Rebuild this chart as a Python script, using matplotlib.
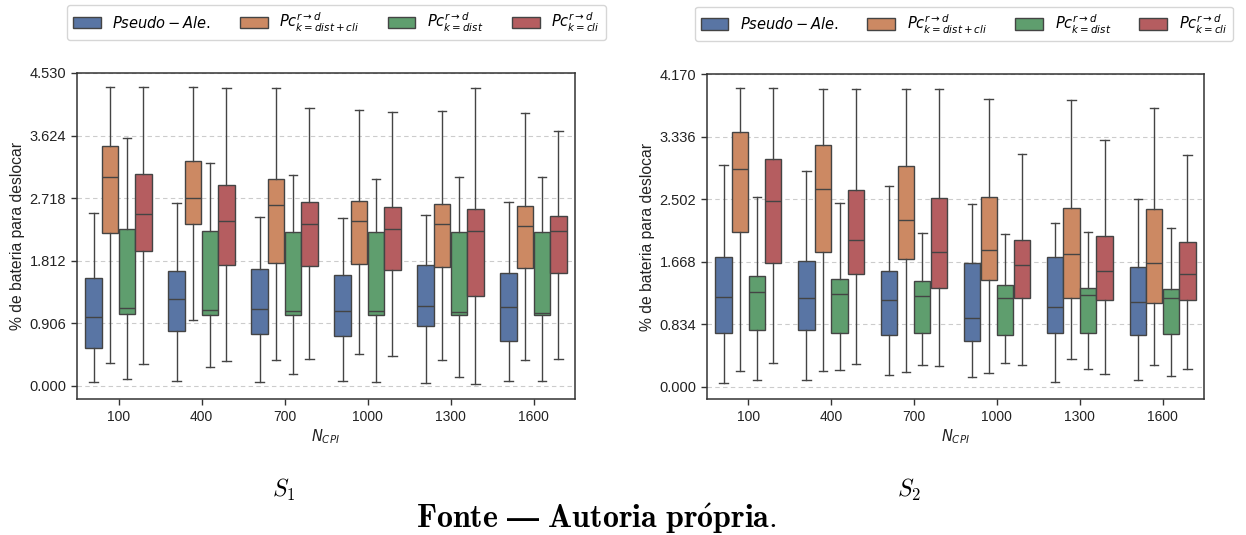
import matplotlib
matplotlib.use("Agg")
import matplotlib.pyplot as plt
from matplotlib.patches import Patch
import numpy as np

# ---------------- data ----------------
categories = ["100", "400", "700", "1000", "1300", "1600"]
series = ["Pseudo-Ale.", "Pc_dist+cli", "Pc_dist", "Pc_cli"]
legend_labels = [r"$Pseudo-Ale.$",
                 r"$Pc_{k=dist+cli}^{r\rightarrow d}$",
                 r"$Pc_{k=dist}^{r\rightarrow d}$",
                 r"$Pc_{k=cli}^{r\rightarrow d}$"]
colors = ["#5975a4", "#cc8963", "#5f9e6e", "#b55d60"]

# each entry: [whislo, q1, median, q3, whishi] per category
s1_pseudo = [[0.058, 0.542, 0.992, 1.563, 2.500], [0.077, 0.799, 1.258, 1.665, 2.652],
             [0.053, 0.745, 1.113, 1.694, 2.449], [0.077, 0.726, 1.084, 1.612, 2.430],
             [0.039, 0.862, 1.152, 1.757, 2.473], [0.068, 0.644, 1.142, 1.636, 2.657]]
s1_distcli = [[0.329, 2.217, 3.020, 3.470, 4.322], [0.954, 2.338, 2.720, 3.262, 4.327],
              [0.373, 1.781, 2.614, 2.996, 4.308], [0.455, 1.762, 2.381, 2.677, 3.998],
              [0.373, 1.728, 2.348, 2.633, 3.984], [0.378, 1.704, 2.318, 2.604, 3.950]]
s1_dist = [[0.102, 1.041, 1.123, 2.275, 3.582], [0.276, 1.026, 1.094, 2.246, 3.228],
           [0.165, 1.031, 1.089, 2.231, 3.054], [0.058, 1.031, 1.079, 2.231, 3.001],
           [0.126, 1.026, 1.065, 2.222, 3.025], [0.068, 1.026, 1.050, 2.227, 3.025]]
s1_cli = [[0.310, 1.955, 2.493, 3.064, 4.322], [0.353, 1.757, 2.391, 2.904, 4.313],
          [0.387, 1.738, 2.348, 2.657, 4.017], [0.426, 1.675, 2.270, 2.594, 3.959],
          [0.029, 1.297, 2.246, 2.565, 4.318], [0.387, 1.636, 2.246, 2.464, 3.693]]

s2_pseudo = [[0.044, 0.714, 1.189, 1.726, 2.955], [0.093, 0.754, 1.185, 1.677, 2.875],
             [0.151, 0.692, 1.158, 1.544, 2.680], [0.129, 0.603, 0.914, 1.650, 2.431],
             [0.062, 0.714, 1.065, 1.735, 2.178], [0.089, 0.692, 1.127, 1.593, 2.502]]
s2_distcli = [[0.209, 2.063, 2.902, 3.394, 3.984], [0.204, 1.792, 2.635, 3.217, 3.975],
              [0.191, 1.704, 2.218, 2.937, 3.975], [0.177, 1.424, 1.828, 2.529, 3.842],
              [0.364, 1.180, 1.775, 2.382, 3.820], [0.288, 1.114, 1.650, 2.365, 3.713]]
s2_dist = [[0.089, 0.759, 1.256, 1.469, 2.524], [0.226, 0.719, 1.242, 1.429, 2.445],
           [0.284, 0.719, 1.211, 1.406, 2.045], [0.319, 0.692, 1.185, 1.349, 2.032],
           [0.240, 0.719, 1.224, 1.318, 2.063], [0.138, 0.701, 1.180, 1.304, 2.116]]
s2_cli = [[0.311, 1.650, 2.476, 3.035, 3.984], [0.306, 1.504, 1.961, 2.618, 3.975],
          [0.280, 1.313, 1.797, 2.511, 3.966], [0.293, 1.185, 1.624, 1.952, 3.101],
          [0.164, 1.149, 1.544, 2.014, 3.283], [0.235, 1.158, 1.500, 1.925, 3.092]]

s1_yticks = [0.000, 0.906, 1.812, 2.718, 3.624, 4.530]
s2_yticks = [0.000, 0.834, 1.668, 2.502, 3.336, 4.170]

# ---------------- figure ----------------
W, H = 1246, 535
fig = plt.figure(figsize=(W / 100, H / 100), dpi=100)

tick_font = "Liberation Sans"
edge = "#444444"


def panel(rect, data, yticks, ylo, legend_x):
    ax = fig.add_axes([rect[0] / W, 1 - rect[3] / H, (rect[2] - rect[0]) / W, (rect[3] - rect[1]) / H])
    n = len(data)
    width = 0.8 / n
    for j, (ser, col) in enumerate(zip(data, colors)):
        stats = []
        for vals in ser:
            lo, q1, med, q3, hi = vals
            stats.append(dict(whislo=lo, q1=q1, med=med, q3=q3, whishi=hi, fliers=[]))
        pos = np.arange(len(categories)) + (j - (n - 1) / 2) * width
        ax.bxp(stats, positions=pos, widths=width * 0.98, patch_artist=True, showfliers=False,
               boxprops=dict(facecolor=col, edgecolor=edge, linewidth=1.0),
               medianprops=dict(color=edge, linewidth=1.0),
               whiskerprops=dict(color=edge, linewidth=1.0),
               capprops=dict(color=edge, linewidth=1.0),
               capwidths=width * 0.5, manage_ticks=False, zorder=3)
    ax.set_xlim(-0.5, len(categories) - 0.5)
    ax.set_ylim(ylo, yticks[-1])
    ax.set_xticks(np.arange(len(categories)))
    ax.set_xticklabels(categories, fontfamily=tick_font, fontsize=10)
    ax.set_yticks(yticks)
    ax.set_yticklabels([f"{v:.3f}" for v in yticks], fontfamily=tick_font, fontsize=10.5)
    ax.yaxis.grid(True, linestyle=(0, (4, 3)), color="#cccccc", linewidth=0.8, zorder=0)
    ax.set_axisbelow(True)
    for s in ax.spines.values():
        s.set_color("#333333")
        s.set_linewidth(1.1)
    ax.tick_params(axis="both", direction="out", length=4.5, width=1, color="#333333", labelcolor="#222222")
    ax.set_ylabel("% de bateria para deslocar", fontfamily=tick_font, fontsize=11.3, color="#222222",
                  labelpad=3)
    ax.set_xlabel(r"$N_{CPI}$", fontsize=10.5, labelpad=2, color="#222222")
    handles = [Patch(facecolor=c, edgecolor=edge, linewidth=1.0) for c in colors]
    ax.legend(handles, legend_labels, loc="upper center", bbox_to_anchor=(legend_x, 1.23), ncol=4,
              fontsize=10.5, frameon=True, handlelength=1.9, handleheight=0.8, columnspacing=1.95,
              handletextpad=0.8, borderpad=0.4, edgecolor="#cccccc", fancybox=True)
    return ax


panel((77, 73, 575, 399), [s1_pseudo, s1_distcli, s1_dist, s1_cli], s1_yticks, -0.19, 0.521)
panel((707, 74, 1204, 399), [s2_pseudo, s2_distcli, s2_dist, s2_cli], s2_yticks, -0.165, 0.517)

fig.text(284 / W, 1 - 497 / H, r"$S_1$", fontsize=17, math_fontfamily="cm", ha="center", va="baseline")
fig.text(909 / W, 1 - 497 / H, r"$S_2$", fontsize=17, math_fontfamily="cm", ha="center", va="baseline")
fig.text(596 / W, 1 - 528 / H, r"$\mathbf{Fonte\ —\ Autoria\ pr\acute{o}pria.}$", fontsize=23,
         math_fontfamily="cm", ha="center", va="baseline")

fig.savefig("out.png", dpi=100)
